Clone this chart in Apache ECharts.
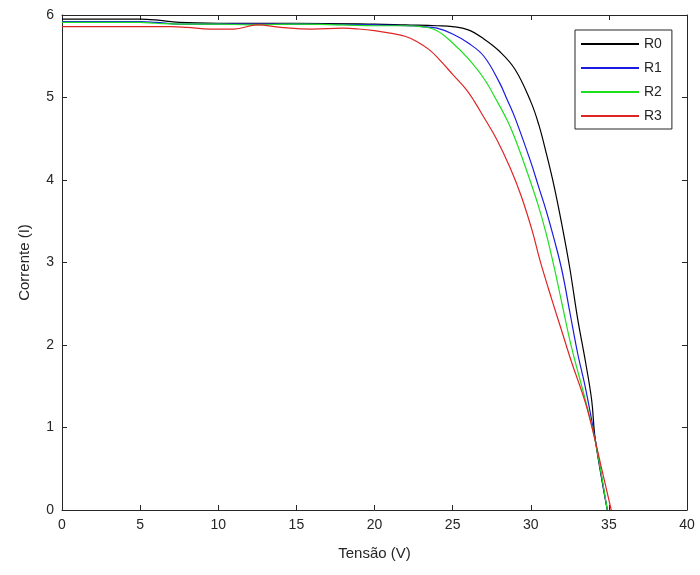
<!DOCTYPE html>
<html>
<head>
<meta charset="utf-8">
<script src="https://cdn.jsdelivr.net/npm/echarts@6/dist/echarts.min.js"></script>
<style>html,body{margin:0;padding:0;background:#fff}#c{width:700px;height:575px}</style>
</head>
<body>
<div id="c"></div>
<script>
const seriesNames = ['R0', 'R1', 'R2', 'R3'];
const xTicks = [0, 5, 10, 15, 20, 25, 30, 35, 40];
const yTicks = [0, 1, 2, 3, 4, 5, 6];
const r0 = [[0,5.95],[5,5.95],[6,5.94],[7.5,5.91],[10,5.90],[15,5.90],[20,5.89],[22,5.88],[24,5.87],[25,5.86],[26,5.82],[27,5.71],[28,5.56],[29,5.34],[30,4.95],[30.5,4.68],[31,4.32],[31.5,3.92],[32,3.45],[32.5,2.93],[33,2.32],[33.5,1.80],[33.9,1.33],[34.1,0.90],[34.5,0.42],[34.9,0]];
const r1 = [[0,5.92],[5,5.92],[6,5.91],[7.5,5.89],[10,5.89],[15,5.89],[20,5.88],[22,5.87],[23,5.86],[24,5.84],[25,5.77],[26,5.66],[27,5.50],[28,5.18],[28.5,4.97],[29,4.75],[30,4.22],[30.5,3.92],[31,3.62],[31.5,3.28],[32,2.90],[32.5,2.40],[33,1.90],[33.5,1.48],[34.1,0.88],[34.5,0.44],[34.9,0]];
const r2 = [[0,5.91],[5,5.91],[6,5.90],[7.5,5.89],[10,5.89],[12,5.88],[15,5.89],[18,5.88],[20,5.87],[22,5.87],[23,5.86],[24,5.81],[25,5.66],[26,5.47],[27,5.23],[27.8,4.97],[28.5,4.72],[29,4.50],[29.8,4.08],[30.5,3.68],[31,3.34],[31.5,2.94],[32,2.50],[32.6,1.98],[33.5,1.33],[34.1,0.86],[34.5,0.45],[34.9,0]];
const r3 = [[0,5.86],[7,5.86],[8,5.85],[9.5,5.83],[11,5.83],[12.5,5.88],[14,5.85],[16,5.83],[18,5.84],[19,5.83],[20,5.81],[21,5.78],[22,5.74],[22.7,5.68],[23.5,5.58],[24.2,5.45],[25,5.28],[25.9,5.09],[26.4,4.95],[27,4.76],[27.8,4.50],[28.7,4.14],[29.4,3.80],[30.1,3.38],[30.6,3.02],[31.4,2.52],[32,2.16],[32.6,1.80],[33.5,1.30],[34.1,0.86],[34.6,0.45],[35.15,0]];
const seriesData = [r0, r1, r2, r3];
const colors = ['#000000', '#1a1ae0', '#1ee01e', '#e02424'];

const font = '"Liberation Sans", Arial, Helvetica, sans-serif';
const axisColor = '#262626';
const chart = echarts.init(document.getElementById('c'), null, {renderer: 'canvas'});

function xAx(pos, main) {
  return {
    type: 'value', position: pos, min: xTicks[0], max: xTicks[xTicks.length-1], interval: 5,
    name: main ? 'Tensão (V)' : '', nameLocation: 'middle', nameGap: 36,
    nameTextStyle: {fontFamily: font, fontSize: 15, color: axisColor},
    axisLine: {show: true, onZero: false, lineStyle: {color: axisColor, width: 1}},
    axisTick: {show: true, inside: true, length: 5, lineStyle: {color: axisColor}},
    axisLabel: {show: main, margin: 8, fontFamily: font, fontSize: 14, color: axisColor},
    splitLine: {show: false}
  };
}
function yAx(pos, main) {
  return {
    type: 'value', position: pos, min: yTicks[0], max: yTicks[yTicks.length-1], interval: 1,
    name: main ? 'Corrente (I)' : '', nameLocation: 'middle', nameGap: 30, nameRotate: 90,
    nameTextStyle: {fontFamily: font, fontSize: 15, color: axisColor},
    axisLine: {show: true, onZero: false, lineStyle: {color: axisColor, width: 1}},
    axisTick: {show: true, inside: true, length: 5, lineStyle: {color: axisColor}},
    axisLabel: {show: main, margin: 8, fontFamily: font, fontSize: 14, color: axisColor},
    splitLine: {show: false}
  };
}

chart.setOption({
  animation: false,
  backgroundColor: '#ffffff',
  grid: {left: 62, right: 13, top: 15, bottom: 65, containLabel: false},
  xAxis: [xAx('bottom', true), xAx('top', false)],
  yAxis: [yAx('left', true), yAx('right', false)],
  legend: {
    data: seriesNames, orient: 'vertical', left: 575, top: 30,
    padding: [7, 10, 6, 5], itemGap: 10, itemWidth: 58, itemHeight: 14,
    borderColor: axisColor, borderWidth: 1, backgroundColor: '#ffffff',
    itemStyle: {opacity: 0},
    textStyle: {fontFamily: font, fontSize: 14, color: axisColor, padding: [0, 0, 0, 0]}
  },
  series: seriesNames.map((n, i) => ({
    name: n, type: 'line', data: seriesData[i], xAxisIndex: 0, yAxisIndex: 0,
    symbol: 'none', smooth: 0.4, clip: true,
    lineStyle: {color: colors[i], width: 1.2},
    itemStyle: {color: colors[i]}
  }))
});
</script>
</body>
</html>
